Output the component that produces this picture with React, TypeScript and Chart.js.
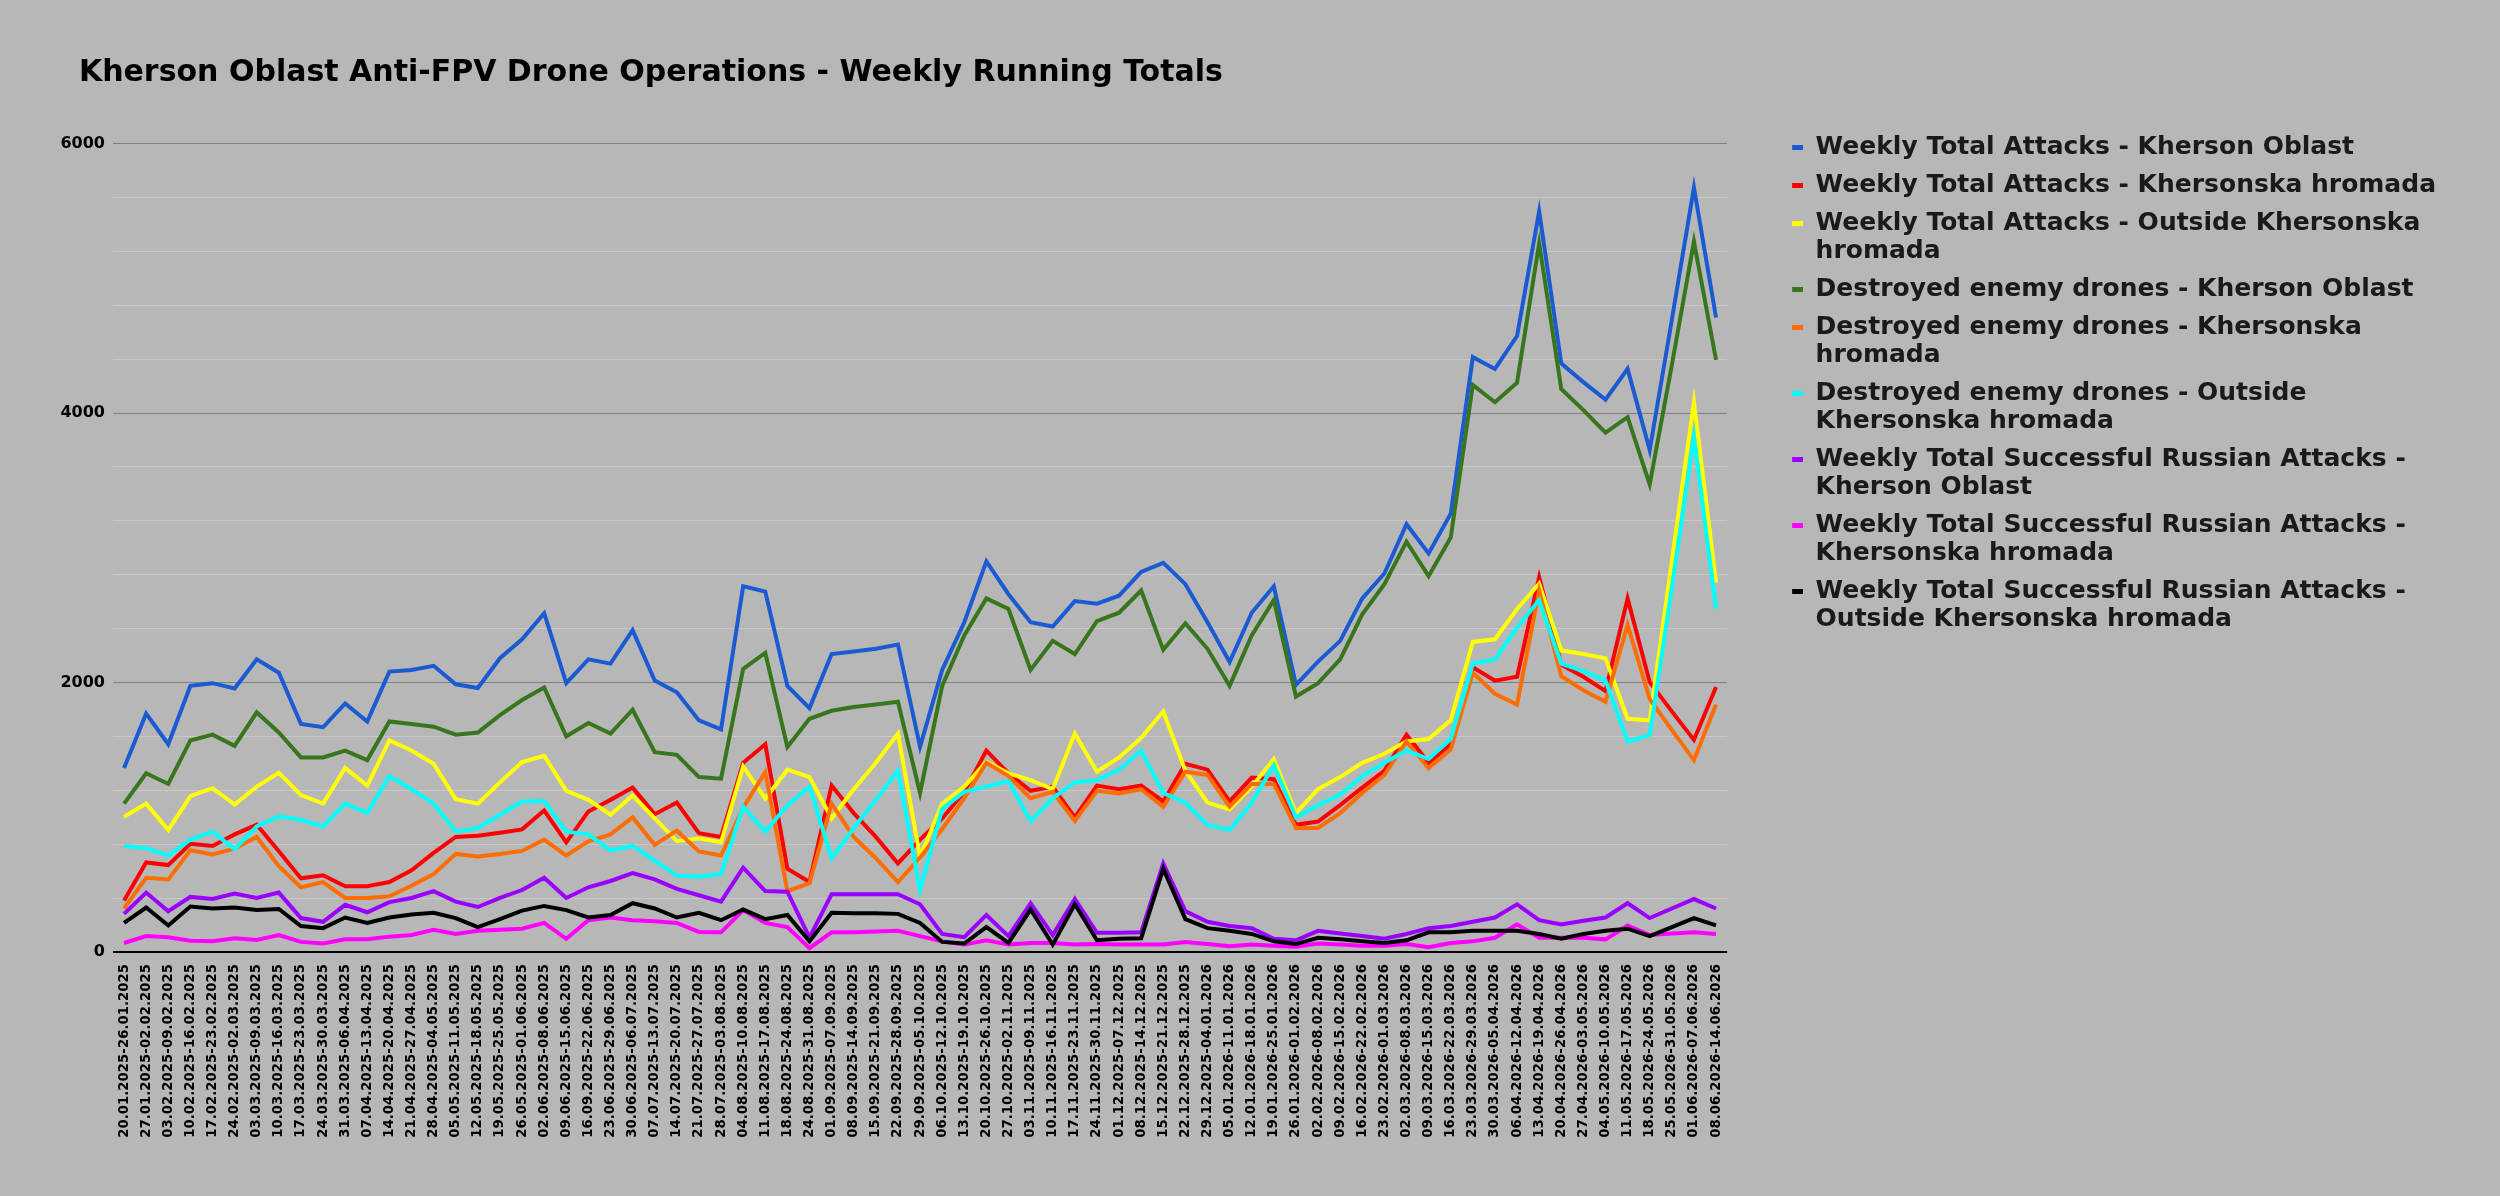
import React, { useEffect, useRef } from "react";
import { Chart, registerables } from "chart.js";

Chart.register(...registerables);

const FONT = "'DejaVu Sans', sans-serif";

const weekLabels = [
  "20.01.2025-26.01.2025", "27.01.2025-02.02.2025", "03.02.2025-09.02.2025", "10.02.2025-16.02.2025",
  "17.02.2025-23.02.2025", "24.02.2025-02.03.2025", "03.03.2025-09.03.2025", "10.03.2025-16.03.2025",
  "17.03.2025-23.03.2025", "24.03.2025-30.03.2025", "31.03.2025-06.04.2025", "07.04.2025-13.04.2025",
  "14.04.2025-20.04.2025", "21.04.2025-27.04.2025", "28.04.2025-04.05.2025", "05.05.2025-11.05.2025",
  "12.05.2025-18.05.2025", "19.05.2025-25.05.2025", "26.05.2025-01.06.2025", "02.06.2025-08.06.2025",
  "09.06.2025-15.06.2025", "16.09.2025-22.06.2025", "23.06.2025-29.06.2025", "30.06.2025-06.07.2025",
  "07.07.2025-13.07.2025", "14.07.2025-20.07.2025", "21.07.2025-27.07.2025", "28.07.2025-03.08.2025",
  "04.08.2025-10.08.2025", "11.08.2025-17.08.2025", "18.08.2025-24.08.2025", "24.08.2025-31.08.2025",
  "01.09.2025-07.09.2025", "08.09.2025-14.09.2025", "15.09.2025-21.09.2025", "22.09.2025-28.09.2025",
  "29.09.2025-05.10.2025", "06.10.2025-12.10.2025", "13.10.2025-19.10.2025", "20.10.2025-26.10.2025",
  "27.10.2025-02.11.2025", "03.11.2025-09.11.2025", "10.11.2025-16.11.2025", "17.11.2025-23.11.2025",
  "24.11.2025-30.11.2025", "01.12.2025-07.12.2025", "08.12.2025-14.12.2025", "15.12.2025-21.12.2025",
  "22.12.2025-28.12.2025", "29.12.2025-04.01.2026", "05.01.2026-11.01.2026", "12.01.2026-18.01.2026",
  "19.01.2026-25.01.2026", "26.01.2026-01.02.2026", "02.02.2026-08.02.2026", "09.02.2026-15.02.2026",
  "16.02.2026-22.02.2026", "23.02.2026-01.03.2026", "02.03.2026-08.03.2026", "09.03.2026-15.03.2026",
  "16.03.2026-22.03.2026", "23.03.2026-29.03.2026", "30.03.2026-05.04.2026", "06.04.2026-12.04.2026",
  "13.04.2026-19.04.2026", "20.04.2026-26.04.2026", "27.04.2026-03.05.2026", "04.05.2026-10.05.2026",
  "11.05.2026-17.05.2026", "18.05.2026-24.05.2026", "25.05.2026-31.05.2026", "01.06.2026-07.06.2026",
  "08.06.2026-14.06.2026",
];

const totalAttacksOblast = [
  1365, 1770, 1542, 1975, 1995, 1955, 2172, 2073, 1692, 1668, 1845, 1711, 2081, 2093, 2124, 1987, 1959, 2180,
  2320, 2514, 1995, 2172, 2140, 2388, 2014, 1928, 1719, 1652, 2714, 2675, 1975, 1810, 2211, 2230, 2250, 2282, 1522,
  2093, 2447, 2899, 2655, 2447, 2415, 2604, 2585, 2644, 2821, 2888, 2730, 2447, 2152, 2518, 2714, 1983,
  2155, 2309, 2624, 2809, 3175, 2958, 3253, 4414, 4327, 4571, 5496, 4367, 4229, 4099, 4327, 3725, 4690, 5673, 4709,
];
const totalAttacksHromada = [
  382, 665, 645, 803, 787, 873, 944, 747, 547, 570, 488, 488, 519, 606, 736, 854, 862, 885,
  910, 1050, 814, 1043, 1129, 1220, 1023, 1109, 881, 854, 1404, 1542, 618, 519, 1235, 1031, 854, 657, 834,
  991, 1188, 1495, 1326, 1196, 1227, 999, 1235, 1208, 1235, 1117, 1397, 1353, 1117, 1294, 1282, 944,
  968, 1090, 1220, 1345, 1613, 1404, 1542, 2113, 2014, 2042, 2781, 2132, 2042, 1936, 2624, 2002, 1786, 1574, 1967,
];
const totalAttacksOutside = [
  1003, 1101, 905, 1157, 1216, 1094, 1227, 1330, 1164, 1101, 1365, 1235, 1570, 1495, 1397, 1133, 1101, 1259,
  1410, 1456, 1196, 1129, 1019, 1161, 991, 822, 842, 814, 1377, 1137, 1353, 1298, 991, 1208, 1404, 1621, 705,
  1101, 1227, 1412, 1326, 1275, 1208, 1621, 1338, 1444, 1589, 1786, 1345, 1109, 1058, 1227, 1432, 1031,
  1208, 1298, 1404, 1471, 1562, 1581, 1719, 2301, 2321, 2545, 2734, 2238, 2211, 2179, 1731, 1719, 2899, 4080, 2742,
];
const destroyedOblast = [
  1101, 1326, 1247, 1570, 1613, 1530, 1778, 1629, 1444, 1444, 1495, 1424, 1711, 1692, 1672, 1613, 1629, 1758,
  1870, 1963, 1601, 1700, 1621, 1798, 1483, 1463, 1298, 1286, 2101, 2219, 1522, 1731, 1790, 1818, 1837, 1857, 1180,
  1975, 2349, 2624, 2545, 2093, 2309, 2211, 2455, 2518, 2683, 2242, 2439, 2250, 1975, 2349, 2612, 1896,
  1995, 2172, 2506, 2730, 3045, 2789, 3076, 4209, 4080, 4225, 5260, 4178, 4021, 3855, 3969, 3470, 4355, 5272, 4394,
];
const destroyedHromada = [
  323, 551, 539, 755, 724, 767, 854, 637, 480, 519, 401, 401, 413, 492, 578, 728, 708, 728,
  750, 834, 716, 822, 873, 999, 795, 901, 747, 716, 1070, 1334, 452, 511, 1101, 854, 696, 519, 700,
  913, 1141, 1404, 1306, 1141, 1188, 972, 1196, 1176, 1208, 1078, 1338, 1314, 1078, 1247, 1247, 921,
  921, 1031, 1180, 1314, 1562, 1365, 1503, 2073, 1916, 1837, 2683, 2046, 1943, 1857, 2427, 1877, 1648, 1424, 1837,
];
const destroyedOutside = [
  787, 771, 716, 834, 893, 763, 932, 1007, 980, 932, 1101, 1031, 1306, 1208, 1101, 893, 921, 1019,
  1117, 1121, 893, 873, 755, 787, 677, 567, 559, 578, 1078, 893, 1090, 1227, 696, 921, 1129, 1345, 460,
  1062, 1188, 1227, 1267, 972, 1141, 1259, 1275, 1353, 1495, 1180, 1109, 944, 905, 1109, 1385, 999,
  1090, 1168, 1306, 1404, 1495, 1432, 1581, 2140, 2172, 2408, 2612, 2140, 2085, 2014, 1562, 1609, 2703, 3824, 2545,
];
const successfulOblast = [
  283, 441, 303, 409, 393, 433, 401, 441, 252, 224, 350, 295, 370, 401, 452, 374, 334, 401,
  460, 551, 401, 480, 527, 586, 539, 468, 421, 374, 626, 452, 448, 106, 429, 429, 429, 429, 354,
  134, 110, 275, 118, 362, 126, 393, 142, 142, 146, 657, 303, 224, 193, 177, 98, 87,
  157, 138, 118, 98, 134, 177, 193, 224, 256, 354, 236, 205, 232, 256, 362, 252, 323, 393, 323,
];
const successfulHromada = [
  67, 118, 110, 83, 79, 102, 90, 126, 75, 63, 94, 94, 114, 126, 165, 134, 157, 165,
  173, 216, 98, 236, 256, 236, 228, 216, 149, 146, 311, 216, 185, 28, 146, 146, 153, 157, 118,
  79, 55, 87, 55, 67, 67, 55, 59, 55, 55, 55, 75, 59, 43, 55, 47, 39,
  63, 55, 47, 47, 59, 35, 67, 79, 106, 205, 106, 106, 106, 94, 197, 126, 138, 146, 134,
];
const successfulOutside = [
  216, 330, 197, 338, 323, 330, 311, 319, 193, 177, 256, 216, 256, 279, 291, 252, 185, 244,
  307, 342, 311, 256, 275, 362, 323, 256, 291, 236, 315, 244, 275, 79, 291, 287, 287, 283, 216,
  75, 63, 185, 67, 315, 55, 354, 87, 98, 102, 618, 244, 177, 157, 134, 79, 59,
  106, 94, 79, 67, 87, 146, 146, 157, 157, 157, 134, 98, 134, 157, 173, 118, 185, 252, 197,
];

const seriesNames = [
  "Weekly Total Attacks - Kherson Oblast",
  "Weekly Total Attacks - Khersonska hromada",
  "Weekly Total Attacks - Outside Khersonska hromada",
  "Destroyed enemy drones - Kherson Oblast",
  "Destroyed enemy drones - Khersonska hromada",
  "Destroyed enemy drones - Outside Khersonska hromada",
  "Weekly Total Successful Russian Attacks - Kherson Oblast",
  "Weekly Total Successful Russian Attacks - Khersonska hromada",
  "Weekly Total Successful Russian Attacks - Outside Khersonska hromada",
];

// legend text as wrapped in the original
const legendLines = [
  ["Weekly Total Attacks - Kherson Oblast"],
  ["Weekly Total Attacks - Khersonska hromada"],
  ["Weekly Total Attacks - Outside Khersonska", "hromada"],
  ["Destroyed enemy drones - Kherson Oblast"],
  ["Destroyed enemy drones - Khersonska", "hromada"],
  ["Destroyed enemy drones - Outside", "Khersonska hromada"],
  ["Weekly Total Successful Russian Attacks -", "Kherson Oblast"],
  ["Weekly Total Successful Russian Attacks -", "Khersonska hromada"],
  ["Weekly Total Successful Russian Attacks -", "Outside Khersonska hromada"],
];

const seriesColors = [
  "#1a5bd3", "#ff0000", "#ffff00", "#38761d", "#ff6d01", "#00ffff", "#9900ff", "#ff00ff", "#000000",
];

const seriesData = [
  totalAttacksOblast, totalAttacksHromada, totalAttacksOutside,
  destroyedOblast, destroyedHromada, destroyedOutside,
  successfulOblast, successfulHromada, successfulOutside,
];

// small dash drawn at the right end of a wide transparent marker
function makeMarker(color: string) {
  const c = document.createElement("canvas");
  c.width = 66;
  c.height = 5;
  const g = c.getContext("2d");
  if (g) {
    g.fillStyle = color;
    g.fillRect(55, 0, 11, 5);
  }
  return c;
}

export default function App() {
  const chartRef = useRef<HTMLCanvasElement>(null);
  const chartInstance = useRef<Chart | null>(null);

  useEffect(() => {
    if (!chartRef.current) return;
    const ctx = chartRef.current.getContext("2d");
    if (!ctx) return;

    const markers = seriesColors.map(makeMarker);

    const datasets = seriesNames.map((name, i) => ({
      label: name,
      data: seriesData[i],
      borderColor: seriesColors[i],
      backgroundColor: seriesColors[i],
      borderWidth: 4,
      pointRadius: 0,
      tension: 0,
      order: seriesNames.length - i,
    }));

    if (chartInstance.current) chartInstance.current.destroy();
    chartInstance.current = new Chart(ctx, {
      type: "line",
      data: { labels: weekLabels, datasets },
      options: {
        animation: false,
        responsive: true,
        maintainAspectRatio: false,
        layout: { padding: { left: 58, right: 54, top: 0, bottom: 0 } },
        plugins: {
          title: {
            display: true,
            text: "  Kherson Oblast Anti-FPV Drone Operations - Weekly Running Totals",
            align: "start",
            color: "#000",
            font: { family: FONT, size: 30, weight: "bold", lineHeight: 1.2 },
            padding: { top: 55, bottom: 52.5 },
          },
          legend: {
            position: "right",
            align: "start",
            fullSize: true,
            maxWidth: 1000,
            title: {
              display: true,
              text: " ",
              font: { size: 1, lineHeight: 1 },
              padding: { top: 0, bottom: 123.5 },
            },
            labels: {
              usePointStyle: true,
              pointStyleWidth: 66,
              boxHeight: 5,
              padding: 10,
              color: "#1a1a1a",
              font: { family: FONT, size: 25, weight: "bold", lineHeight: 1.12 },
              generateLabels: (chart: any) =>
                chart.data.datasets.map((ds: any, i: number) => ({
                  text: legendLines[i],
                  fillStyle: ds.borderColor,
                  strokeStyle: ds.borderColor,
                  lineWidth: 0,
                  hidden: false,
                  datasetIndex: i,
                  pointStyle: markers[i],
                  fontColor: "#1a1a1a",
                })),
            },
          },
          tooltip: { enabled: false },
        },
        scales: {
          x: {
            offset: true,
            grid: { display: false },
            border: { display: false },
            ticks: {
              autoSkip: false,
              minRotation: 90,
              maxRotation: 90,
              padding: 4,
              color: "#000",
              font: { family: FONT, size: 13.3, weight: "bold" },
            },
            afterFit: (scale: any) => {
              scale.height = 244;
            },
          },
          y: {
            min: 0,
            max: 6000,
            border: { display: false },
            grid: {
              drawTicks: false,
              color: (c: any) =>
                c.tick.value === 0 ? "#000000" : c.tick.value % 2000 === 0 ? "#808080" : "#c8c8c8",
              lineWidth: (c: any) => (c.tick.value === 0 ? 2 : 1),
            },
            ticks: {
              stepSize: 400,
              padding: 8,
              color: "#000",
              font: { family: FONT, size: 16, weight: "bold" },
              callback: (v: any) => (Number(v) % 2000 === 0 ? String(v) : ""),
            },
            afterFit: (scale: any) => {
              scale.width = 55;
            },
          },
        },
      },
    });

    return () => {
      if (chartInstance.current) {
        chartInstance.current.destroy();
        chartInstance.current = null;
      }
    };
  }, []);

  return (
    <div style={{ position: "fixed", left: 0, top: 0, width: "100vw", height: "100vh", background: "#b7b7b7" }}>
      <canvas ref={chartRef}></canvas>
    </div>
  );
}
